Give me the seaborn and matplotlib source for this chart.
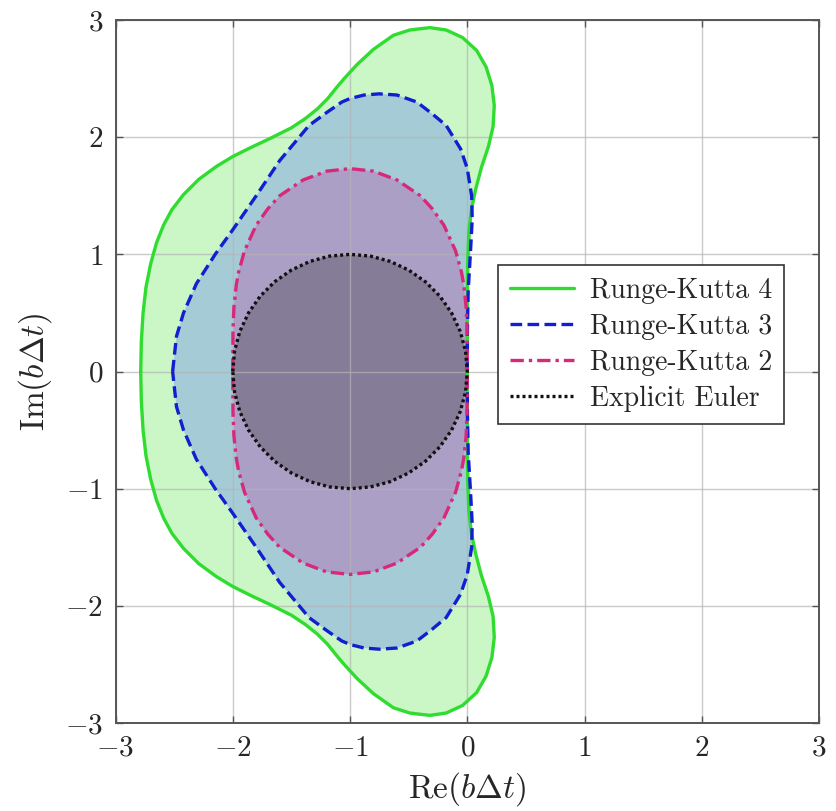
import numpy as np
import matplotlib
matplotlib.use("Agg")
import matplotlib.pyplot as plt
import seaborn as sns

# upper half of each stability boundary,
# running from the leftmost point on the real axis round to the origin
rk4_x = [-2.785, -2.78, -2.765, -2.74, -2.70, -2.65, -2.59, -2.52, -2.42, -2.29,
         -2.14, -2.00, -1.85, -1.68, -1.50, -1.38, -1.28, -1.19, -1.11, -1.05,
         -1.00, -0.94, -0.80, -0.63, -0.49, -0.32, -0.18, -0.04, 0.08, 0.16,
         0.21, 0.23, 0.22, 0.18, 0.12, 0.07, 0.035, 0.014, 0.004, 0.0, 0.0]
rk4_y = [0.0, 0.25, 0.50, 0.72, 0.92, 1.10, 1.25, 1.38, 1.51, 1.64,
         1.75, 1.835, 1.91, 1.99, 2.08, 2.16, 2.24, 2.33, 2.43, 2.50,
         2.555, 2.62, 2.75, 2.87, 2.915, 2.935, 2.915, 2.85, 2.74, 2.60,
         2.44, 2.27, 2.09, 1.92, 1.74, 1.55, 1.38, 1.20, 0.95, 0.60, 0.0]

rk3_x = [-2.513, -2.48, -2.42, -2.31, -2.15, -2.00, -1.80, -1.60, -1.35, -1.20,
         -1.07, -1.00, -0.88, -0.75, -0.60, -0.43, -0.30, -0.18, -0.057, 0.0,
         0.037, 0.042, 0.026, 0.008, 0.001, 0.0]
rk3_y = [0.0, 0.30, 0.50, 0.75, 1.00, 1.21, 1.50, 1.80, 2.10, 2.21,
         2.30, 2.33, 2.36, 2.37, 2.36, 2.30, 2.20, 2.10, 1.90, 1.732,
         1.50, 1.30, 1.00, 0.70, 0.35, 0.0]

rk2_x = [-2.0, -1.998, -1.99, -1.97, -1.95, -1.90, -1.80, -1.70, -1.60, -1.40,
         -1.20, -1.00, -0.80, -0.60, -0.40, -0.30, -0.20, -0.10, -0.05, -0.03,
         -0.01, -0.002, 0.0]
rk2_y = [0.0, 0.36, 0.55, 0.74, 0.85, 1.03, 1.25, 1.39, 1.50, 1.635,
         1.71, 1.732, 1.71, 1.635, 1.50, 1.39, 1.25, 1.03, 0.85, 0.74,
         0.55, 0.36, 0.0]

euler_x = [-2.0, -1.985, -1.940, -1.866, -1.766, -1.643, -1.5, -1.342, -1.174, -1.0,
           -0.826, -0.658, -0.5, -0.357, -0.234, -0.134, -0.060, -0.015, 0.0]
euler_y = [0.0, 0.174, 0.342, 0.5, 0.643, 0.766, 0.866, 0.940, 0.985, 1.0,
           0.985, 0.940, 0.866, 0.766, 0.643, 0.5, 0.342, 0.174, 0.0]

labels = ["Runge-Kutta 4", "Runge-Kutta 3", "Runge-Kutta 2", "Explicit Euler"]
ticks = [-3, -2, -1, 0, 1, 2, 3]


def closed(x, y):
    # mirror the upper half to get the full closed boundary
    x = np.asarray(x)
    y = np.asarray(y)
    return (np.concatenate([x, x[::-1][1:]]),
            np.concatenate([y, -y[::-1][1:]]))


sns.set_style("whitegrid")
plt.rcParams["font.family"] = "serif"
plt.rcParams["font.serif"] = ["cmr10", "DejaVu Serif"]
plt.rcParams["mathtext.fontset"] = "cm"
plt.rcParams["axes.formatter.use_mathtext"] = True

fig = plt.figure(figsize=(8.37, 8.11), dpi=100)
ax = fig.add_axes([0.138, 0.1085, 0.8406, 0.8668])

curves = [(rk4_x, rk4_y), (rk3_x, rk3_y), (rk2_x, rk2_y), (euler_x, euler_y)]
line_colors = ["#2fdc2f", "#1020d0", "#d8287c", "#111111"]
fill_colors = ["#cbf6c6", "#a5cbd6", "#ab9fc6", "#857c97"]
styles = ["-", (0, (3.5, 1.6)), (0, (4, 1.5, 1, 1.5)), (0, (0.9, 0.9))]

for (cx, cy), fc in zip(curves, fill_colors):
    fx, fy = closed(cx, cy)
    ax.fill(fx, fy, color=fc, lw=0, zorder=1)

for (cx, cy), lc, ls, lab in zip(curves, line_colors, styles, labels):
    fx, fy = closed(cx, cy)
    sns.lineplot(x=fx, y=fy, sort=False, estimator=None, ax=ax, color=lc,
                 linestyle=ls, lw=2.4, label=lab, zorder=3,
                 solid_joinstyle="round")

ax.set_axisbelow("line")
ax.grid(True, color="#b4b4b4", lw=1.0, alpha=0.7, zorder=1.5)
ax.set_xlim(-3, 3)
ax.set_ylim(-3, 3)
ax.set_xticks(ticks)
ax.set_yticks(ticks)
ax.tick_params(direction="in", length=5, width=1, color="#555555",
               labelsize=21, pad=9, top=True, right=True, bottom=True, left=True)
for s in ax.spines.values():
    s.set_color("#555555")
    s.set_linewidth(1.4)

ax.set_xlabel(r"$\mathrm{Re}(b\mathit{\Delta} t)$", fontsize=24, labelpad=6)
ax.set_ylabel(r"$\mathrm{Im}(b\mathit{\Delta} t)$", fontsize=24, labelpad=8)

leg = ax.legend(loc="upper left", bbox_to_anchor=(0.5435, 0.6515),
                borderaxespad=0, fancybox=False, framealpha=1,
                edgecolor="#333333", fontsize=20, handlelength=2.3,
                handletextpad=0.55, labelspacing=0.35, borderpad=0.45)
leg.get_frame().set_linewidth(1.2)

fig.savefig("out.png", dpi=100)
